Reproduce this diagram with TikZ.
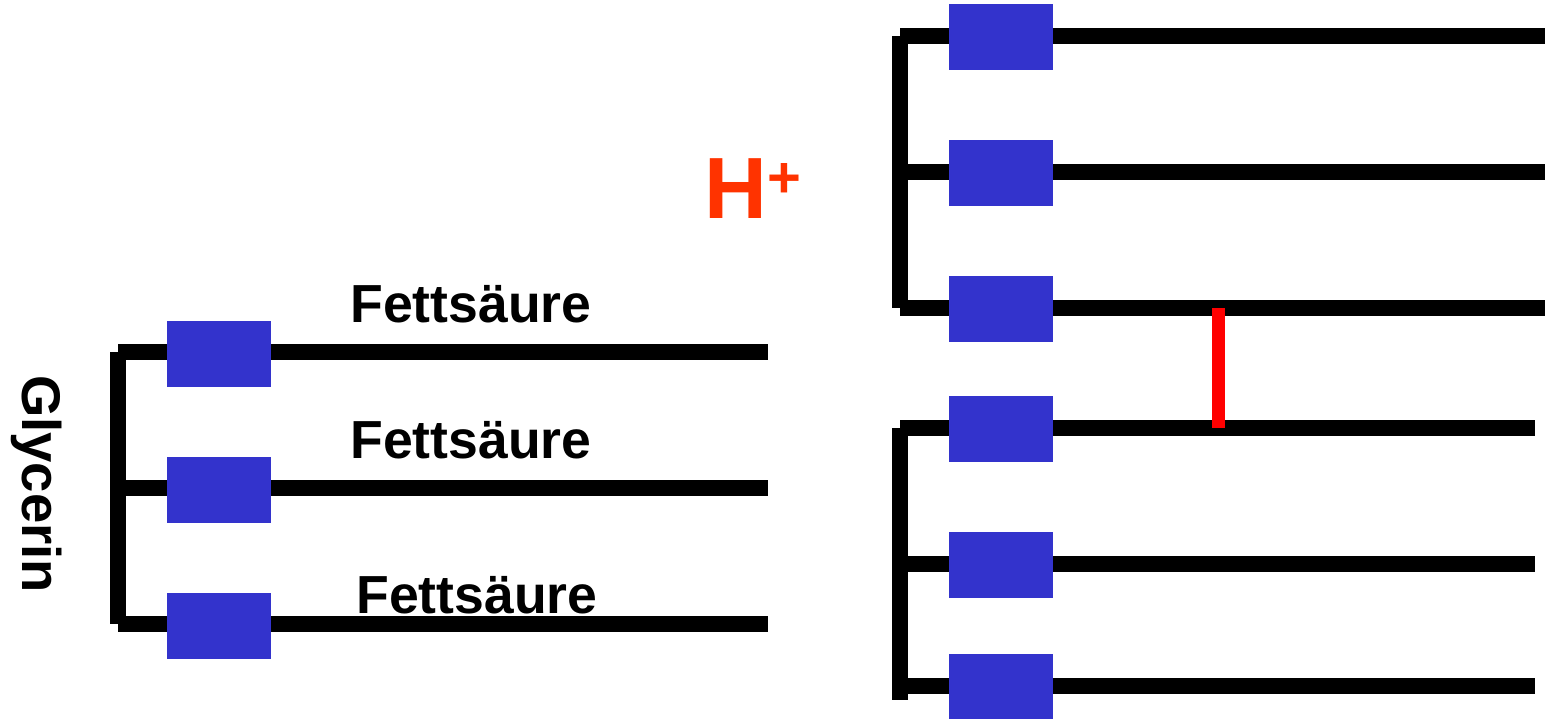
\documentclass[tikz,border=0pt]{standalone}
\usepackage{fontspec}
\setmainfont{Liberation Sans}
\usetikzlibrary{positioning, calc}
\definecolor{boxblue}{RGB}{51,51,204}
\definecolor{bondred}{RGB}{255,0,0}
\definecolor{protonred}{RGB}{255,51,0}

\begin{document}
\begin{tikzpicture}[x=0.02cm, y=-0.02cm,
    chain/.style={line width=0.32cm},
    unit/.style={fill=boxblue, minimum width=2.08cm, minimum height=1.32cm, inner sep=0pt},
    fatlabel/.style={font=\fontsize{30.5}{31}\selectfont\bfseries, inner sep=0pt}]
  \useasboundingbox (0,0) rectangle (1545,718);

  % left molecule: glycerin + three fatty acids
  \foreach \y/\by/\i in {352/354/1, 488/490/2, 624/625.5/3}{
    \coordinate (ls\i) at (118,\y);
    \coordinate (le\i) at (768,\y);
    \draw[chain] (ls\i) -- (le\i);
    \node[unit] (l\i) at (219,\by) {};
  }
  \draw[chain] (ls1) -- (ls3);

  \node[fatlabel] (fa1) at (471,304) {Fettsäure};
  \node[fatlabel] (fa2) at (471,440) {Fettsäure};
  \node[fatlabel] (fa3) at (477,595) {Fettsäure};
  \node[rotate=-90, font=\fontsize{31}{31}\selectfont\bfseries, inner sep=0pt] (glyc) at (37,484) {Glycerin};

  % right: two molecules, cross-linked
  \foreach \y/\by/\i in {36/37/1, 172/172.5/2, 308/308.5/3}{
    \coordinate (ts\i) at (900,\y);
    \coordinate (te\i) at (1545,\y);
    \draw[chain] (ts\i) -- (te\i);
    \node[unit] (t\i) at (1001,\by) {};
  }
  \draw[chain] (ts1) -- (ts3);

  \foreach \y/\by/\i in {428/429/1, 564/565/2, 686/686.5/3}{
    \coordinate (bs\i) at (900,\y);
    \coordinate (be\i) at (1535,\y);
    \draw[chain] (bs\i) -- (be\i);
    \node[unit] (b\i) at (1001,\by) {};
  }
  \coordinate (bend) at (900,700);
  \draw[chain] (bs1) -- (bend);

  % bridge between the chains
  \coordinate (bridgetop) at (1218.5,308);
  \coordinate (bridgebot) at (1218.5,428);
  \draw[bondred, line width=0.26cm] (bridgetop) -- (bridgebot);

  \node[anchor=base west, inner sep=0pt, text=protonred,
    font=\fontsize{49.5}{50}\selectfont\bfseries] (proton) at (704,218)
    {H\raisebox{0.41cm}{\fontsize{33}{33}\selectfont +}};
\end{tikzpicture}
\end{document}
